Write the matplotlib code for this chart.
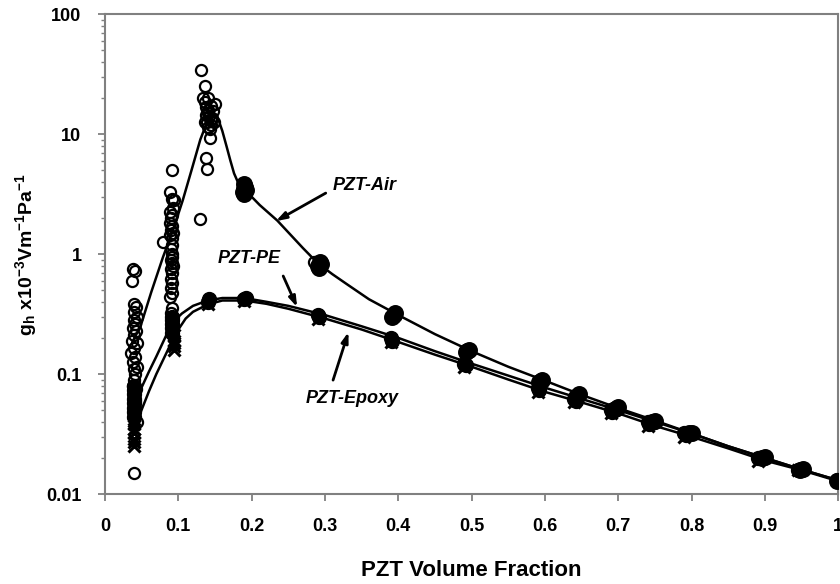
import matplotlib
matplotlib.use("Agg")
import matplotlib.pyplot as plt
from matplotlib.ticker import LogLocator, FixedLocator, NullFormatter

plt.rcParams['font.family'] = ['Liberation Sans', 'DejaVu Sans']
plt.rcParams['mathtext.fontset'] = 'custom'
plt.rcParams['mathtext.rm'] = 'Liberation Sans:bold'
plt.rcParams['mathtext.it'] = 'Liberation Sans:bold'
plt.rcParams['mathtext.bf'] = 'Liberation Sans:bold'
plt.rcParams['mathtext.default'] = 'rm'

# ---------------- data ----------------
# smooth model curves (knots)
air_curve_x = [0.040, 0.048, 0.063, 0.079, 0.093, 0.106, 0.118, 0.130, 0.137, 0.142, 0.147, 0.151,
               0.155, 0.160, 0.166, 0.171, 0.176, 0.181, 0.188, 0.200, 0.211, 0.235, 0.27, 0.29,
               0.31, 0.33, 0.36, 0.40, 0.45, 0.50, 0.55, 0.60, 0.65, 0.70, 0.75, 0.80, 0.85,
               0.90, 0.95, 1.00]
air_curve_y = [0.20, 0.245, 0.48, 0.94, 1.6, 2.8, 5.0, 9.0, 11.6, 13.0, 13.8, 13.9,
               13.0, 10.6, 7.8, 6.0, 4.7, 4.0, 3.45, 3.0, 2.56, 1.90, 1.12, 0.84,
               0.68, 0.56, 0.42, 0.31, 0.215, 0.155, 0.115, 0.088, 0.067, 0.052, 0.041, 0.032, 0.025,
               0.020, 0.016, 0.013]

pe_curve_x = [0.040, 0.048, 0.060, 0.070, 0.085, 0.095, 0.105, 0.120, 0.140, 0.160, 0.190, 0.220,
              0.250, 0.300, 0.350, 0.400, 0.450, 0.500, 0.550, 0.600, 0.650, 0.700, 0.750,
              0.800, 0.850, 0.900, 0.950, 1.000]
pe_curve_y = [0.063, 0.073, 0.105, 0.14, 0.22, 0.28, 0.32, 0.37, 0.41, 0.43, 0.43, 0.40,
              0.37, 0.31, 0.25, 0.20, 0.155, 0.122, 0.097, 0.077, 0.062, 0.050, 0.040,
              0.032, 0.025, 0.020, 0.016, 0.013]

epoxy_curve_x = [0.040, 0.048, 0.060, 0.070, 0.090, 0.100, 0.110, 0.120, 0.140, 0.160, 0.190, 0.220,
                 0.250, 0.300, 0.350, 0.400, 0.450, 0.500, 0.550, 0.600, 0.650, 0.700, 0.750,
                 0.800, 0.850, 0.900, 0.950, 1.000]
epoxy_curve_y = [0.040, 0.047, 0.072, 0.10, 0.18, 0.235, 0.29, 0.33, 0.38, 0.41, 0.41, 0.385,
                 0.35, 0.29, 0.235, 0.185, 0.145, 0.115, 0.090, 0.071, 0.058, 0.047, 0.037,
                 0.030, 0.024, 0.019, 0.0158, 0.0128]

# measured PZT-Air points, low fractions (open circles)
air_x = [0.038, 0.041, 0.037, 0.039, 0.042, 0.040, 0.043, 0.039, 0.041, 0.038, 0.042, 0.040,
         0.037, 0.043, 0.039, 0.036, 0.041, 0.038, 0.043, 0.039, 0.041, 0.040, 0.038, 0.042,
         0.040, 0.039, 0.041, 0.044, 0.040,
         0.091, 0.089, 0.091, 0.094, 0.093, 0.088, 0.091, 0.090, 0.089, 0.092, 0.090, 0.093,
         0.088, 0.091, 0.079, 0.092, 0.090, 0.091, 0.092, 0.090, 0.091, 0.093, 0.090, 0.092,
         0.090, 0.091, 0.090, 0.092, 0.088, 0.091, 0.090,
         0.131, 0.136, 0.133, 0.150, 0.140, 0.138, 0.137, 0.143, 0.138, 0.139, 0.130,
         0.140, 0.142, 0.144, 0.139, 0.145, 0.141, 0.143, 0.146, 0.138, 0.147, 0.140, 0.144,
         0.137, 0.148, 0.285]
air_y = [0.75, 0.72, 0.60, 0.38, 0.36, 0.33, 0.30, 0.28, 0.26, 0.24, 0.23, 0.21,
         0.19, 0.18, 0.165, 0.15, 0.14, 0.125, 0.115, 0.11, 0.10, 0.09, 0.08, 0.075,
         0.07, 0.065, 0.06, 0.04, 0.015,
         5.0, 3.3, 2.9, 2.8, 2.4, 2.25, 2.1, 2.0, 1.8, 1.7, 1.6, 1.5,
         1.45, 1.35, 1.26, 1.2, 1.1, 1.0, 0.95, 0.9, 0.85, 0.8, 0.75, 0.7,
         0.62, 0.57, 0.52, 0.47, 0.44, 0.355, 0.32,
         34.0, 25.0, 20.0, 17.8, 20.0, 16.9, 12.6, 9.3, 6.3, 5.1, 1.95,
         15.0, 14.0, 13.0, 12.5, 12.0, 11.5, 11.0, 13.5, 14.5, 15.5, 16.0, 17.0,
         18.5, 12.5, 0.86]

# measured PZT-Air points, higher fractions (dense overlapping clusters)
air_dense_x = [0.188, 0.190, 0.192, 0.190, 0.189, 0.191,
               0.290, 0.294, 0.292, 0.293,
               0.392, 0.396, 0.394,
               0.492, 0.496, 0.494,
               0.592, 0.596, 0.594,
               0.642, 0.646, 0.644,
               0.696, 0.700, 0.698,
               0.746, 0.750,
               0.796, 0.800,
               0.896, 0.900,
               0.948, 0.952,
               0.998]
air_dense_y = [3.3, 3.5, 3.4, 3.8, 3.15, 3.65,
               0.80, 0.82, 0.77, 0.86,
               0.30, 0.32, 0.31,
               0.152, 0.158, 0.155,
               0.086, 0.090, 0.088,
               0.065, 0.068, 0.066,
               0.051, 0.053, 0.052,
               0.040, 0.041,
               0.032, 0.0325,
               0.020, 0.0202,
               0.016, 0.0162,
               0.0128]

# measured PZT-PE points
pe_x = [0.040, 0.040, 0.040, 0.040, 0.040, 0.040, 0.040, 0.040,
        0.092, 0.092, 0.092, 0.092, 0.092,
        0.140, 0.142, 0.190, 0.192, 0.290, 0.292, 0.390, 0.392, 0.490, 0.492,
        0.590, 0.592, 0.640, 0.642, 0.690, 0.692, 0.740, 0.742, 0.790, 0.792,
        0.890, 0.945, 0.998]
pe_y = [0.080, 0.074, 0.068, 0.062, 0.057, 0.052, 0.048, 0.044,
        0.30, 0.28, 0.26, 0.24, 0.22,
        0.40, 0.42, 0.42, 0.43, 0.31, 0.30, 0.20, 0.19, 0.122, 0.118,
        0.077, 0.074, 0.062, 0.060, 0.050, 0.048, 0.040, 0.038, 0.032, 0.031,
        0.020, 0.016, 0.013]

# measured PZT-Epoxy points
epoxy_x = [0.040, 0.040, 0.040, 0.040, 0.040, 0.040, 0.040, 0.040,
           0.094, 0.094, 0.094, 0.094, 0.094,
           0.140, 0.190, 0.290, 0.390, 0.490, 0.590, 0.640, 0.690, 0.740, 0.790,
           0.890, 0.945, 1.000]
epoxy_y = [0.045, 0.041, 0.038, 0.035, 0.032, 0.029, 0.027, 0.025,
           0.21, 0.19, 0.18, 0.17, 0.16,
           0.38, 0.41, 0.29, 0.185, 0.115, 0.071, 0.058, 0.047, 0.037, 0.030,
           0.019, 0.016, 0.0128]

xticks = [0, 0.1, 0.2, 0.3, 0.4, 0.5, 0.6, 0.7, 0.8, 0.9, 1.0]
xtick_labels = ['0', '0.1', '0.2', '0.3', '0.4', '0.5', '0.6', '0.7', '0.8', '0.9', '1']
yticks = [0.01, 0.1, 1, 10, 100]
ytick_labels = ['0.01', '0.1', '1', '10', '100']

# ---------------- figure ----------------
fig = plt.figure(figsize=(8.4, 5.84), dpi=100)
ax = fig.add_axes([0.125, 0.154, 0.873, 0.822])
ax.set_yscale('log')
ax.set_xlim(0, 1)
ax.set_ylim(0.01, 100)

# curves
ax.plot(air_curve_x, air_curve_y, color='black', lw=1.8, zorder=2)
ax.plot(pe_curve_x, pe_curve_y, color='black', lw=1.8, zorder=2)
ax.plot(epoxy_curve_x, epoxy_curve_y, color='black', lw=1.8, zorder=2)

# points
ax.plot(air_x, air_y, linestyle='none', marker='o', ms=8, mfc='none', mec='black', mew=1.6, zorder=3)
ax.plot(air_dense_x, air_dense_y, linestyle='none', marker='o', ms=11, mfc='black', mec='black',
        mew=1.2, zorder=3)
ax.plot(pe_x, pe_y, linestyle='none', marker='o', ms=10, mfc='black', mec='black', zorder=3)
ax.plot(epoxy_x, epoxy_y, linestyle='none', marker='x', ms=9, mec='black', mew=2.2, zorder=3)

# axes styling
grey = '#808080'
for s in ax.spines.values():
    s.set_color(grey)
    s.set_linewidth(1.5)
ax.set_xticks(xticks)
ax.set_xticklabels(xtick_labels)
ax.yaxis.set_major_locator(FixedLocator(yticks))
ax.set_yticklabels(ytick_labels)
ax.yaxis.set_minor_locator(LogLocator(base=10, subs=range(2, 10)))
ax.yaxis.set_minor_formatter(NullFormatter())
ax.tick_params(axis='both', which='major', direction='out', length=5, width=1.3, color=grey,
               labelsize=13, pad=12)
ax.tick_params(axis='y', which='minor', direction='out', length=3, width=1.0, color=grey)
for lab in ax.get_xticklabels() + ax.get_yticklabels():
    lab.set_fontweight('bold')

ax.set_xlabel('PZT Volume Fraction', fontsize=16, fontweight='bold', labelpad=18)
ax.set_ylabel(r'g$_{h}$ x10$^{-3}$Vm$^{-1}$Pa$^{-1}$', fontsize=14, fontweight='bold', labelpad=5)

# annotations
txt = dict(fontsize=13, fontweight='bold', fontstyle='italic', va='center', ha='left')
ax.text(0.310, 3.76, 'PZT-Air', **txt)
ax.text(0.154, 0.926, 'PZT-PE', **txt)
ax.text(0.273, 0.063, 'PZT-Epoxy', **txt)
arr = dict(arrowstyle='-|>,head_length=0.6,head_width=0.2', lw=2, color='black',
           shrinkA=0, shrinkB=0)
ax.annotate('', xy=(0.233, 1.88), xytext=(0.301, 3.22), arrowprops=arr)
ax.annotate('', xy=(0.262, 0.361), xytext=(0.243, 0.656), arrowprops=arr)
ax.annotate('', xy=(0.332, 0.224), xytext=(0.311, 0.089), arrowprops=arr)

fig.savefig('out.png', dpi=100)
